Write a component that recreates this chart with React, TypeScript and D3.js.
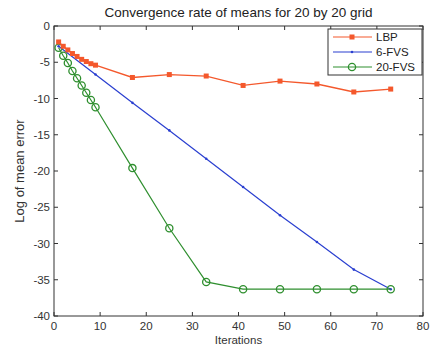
import React from "react";
import * as d3 from "d3";

const lbpX = [1, 2, 3, 4, 5, 6, 7, 8, 9, 17, 25, 33, 41, 49, 57, 65, 73];
const lbpY = [-2.2, -2.8, -3.3, -3.8, -4.2, -4.6, -4.9, -5.2, -5.4, -7.1, -6.7, -6.9, -8.2, -7.6, -8.0, -9.1, -8.7];
const fvs6X = [1, 9, 17, 25, 33, 41, 49, 57, 65, 73];
const fvs6Y = [-2.8, -6.7, -10.6, -14.4, -18.3, -22.2, -26.1, -29.8, -33.6, -36.3];
const fvs20X = [1, 2, 3, 4, 5, 6, 7, 8, 9, 17, 25, 33, 41, 49, 57, 65, 73];
const fvs20Y = [-3.0, -4.1, -5.1, -6.2, -7.2, -8.2, -9.2, -10.2, -11.2, -19.6, -27.9, -35.3, -36.3, -36.3, -36.3, -36.3, -36.3];
const xTicks = [0, 10, 20, 30, 40, 50, 60, 70, 80];
const yTicks = [0, -5, -10, -15, -20, -25, -30, -35, -40];
const seriesNames = ["LBP", "6-FVS", "20-FVS"];

const W = 432, H = 356;
const L = 54, R = 423, T = 26, B = 316;
const FONT = "'Liberation Sans', Arial, sans-serif";
const C_LBP = "#f4582c";
const C_6 = "#2a3fd0";
const C_20 = "#2f8f2f";

export default function App() {
  const x = d3.scaleLinear().domain([0, 80]).range([L, R]);
  const y = d3.scaleLinear().domain([-40, 0]).range([B, T]);
  const line = d3.line<[number, number]>().x(d => x(d[0])).y(d => y(d[1]));
  const lbp = lbpX.map((v, i) => [v, lbpY[i]] as [number, number]);
  const f6 = fvs6X.map((v, i) => [v, fvs6Y[i]] as [number, number]);
  const f20 = fvs20X.map((v, i) => [v, fvs20Y[i]] as [number, number]);
  const colors = [C_LBP, C_6, C_20];
  const tl = 4;
  return (
    <svg width={W} height={H} style={{ position: "absolute", left: 0, top: 0, background: "#fff" }} fontFamily={FONT}>
      <rect x={0} y={0} width={W} height={H} fill="#fff" />
      <text x={(L + R) / 2} y={17} textAnchor="middle" fontSize={13.5} fill="#222">Convergence rate of means for 20 by 20 grid</text>
      <rect x={L} y={T} width={R - L} height={B - T} fill="none" stroke="#333" strokeWidth={1} />
      {xTicks.map(t => (
        <g key={"x" + t}>
          <line x1={x(t)} x2={x(t)} y1={B} y2={B - tl} stroke="#333" />
          <line x1={x(t)} x2={x(t)} y1={T} y2={T + tl} stroke="#333" />
          <text x={x(t)} y={B + 14} textAnchor="middle" fontSize={11.5} fill="#333">{t}</text>
        </g>
      ))}
      {yTicks.map(t => (
        <g key={"y" + t}>
          <line x1={L} x2={L + tl} y1={y(t)} y2={y(t)} stroke="#333" />
          <line x1={R} x2={R - tl} y1={y(t)} y2={y(t)} stroke="#333" />
          <text x={L - 4} y={y(t) + 4} textAnchor="end" fontSize={11.5} fill="#333">{t}</text>
        </g>
      ))}
      <text x={(L + R) / 2} y={344} textAnchor="middle" fontSize={11.5} fill="#333">Iterations</text>
      <text transform={`translate(24,${(T + B) / 2}) rotate(-90)`} textAnchor="middle" fontSize={13} fill="#333">Log of mean error</text>
      <path d={line(f6) || ""} fill="none" stroke={C_6} strokeWidth={1.2} />
      {f6.map((d, i) => <circle key={"b" + i} cx={x(d[0])} cy={y(d[1])} r={1.3} fill={C_6} />)}
      <path d={line(f20) || ""} fill="none" stroke={C_20} strokeWidth={1.2} />
      {f20.map((d, i) => <circle key={"g" + i} cx={x(d[0])} cy={y(d[1])} r={3.6} fill="none" stroke={C_20} strokeWidth={1.3} />)}
      <path d={line(lbp) || ""} fill="none" stroke={C_LBP} strokeWidth={1.3} />
      {lbp.map((d, i) => <rect key={"r" + i} x={x(d[0]) - 2.5} y={y(d[1]) - 2.5} width={5} height={5} fill={C_LBP} />)}
      <rect x={328} y={29} width={94} height={46} fill="#fff" stroke="#333" strokeWidth={1} />
      {seriesNames.map((n, i) => {
        const ly = 37 + i * 15;
        return (
          <g key={n}>
            <line x1={333} x2={372} y1={ly} y2={ly} stroke={colors[i]} strokeWidth={1.2} />
            {i === 0 && <rect x={349.5} y={ly - 2.5} width={5} height={5} fill={C_LBP} />}
            {i === 1 && <circle cx={352} cy={ly} r={1.3} fill={C_6} />}
            {i === 2 && <circle cx={352} cy={ly} r={3.6} fill="none" stroke={C_20} strokeWidth={1.3} />}
            <text x={376} y={ly + 4} fontSize={11.5} fill="#222">{n}</text>
          </g>
        );
      })}
    </svg>
  );
}
